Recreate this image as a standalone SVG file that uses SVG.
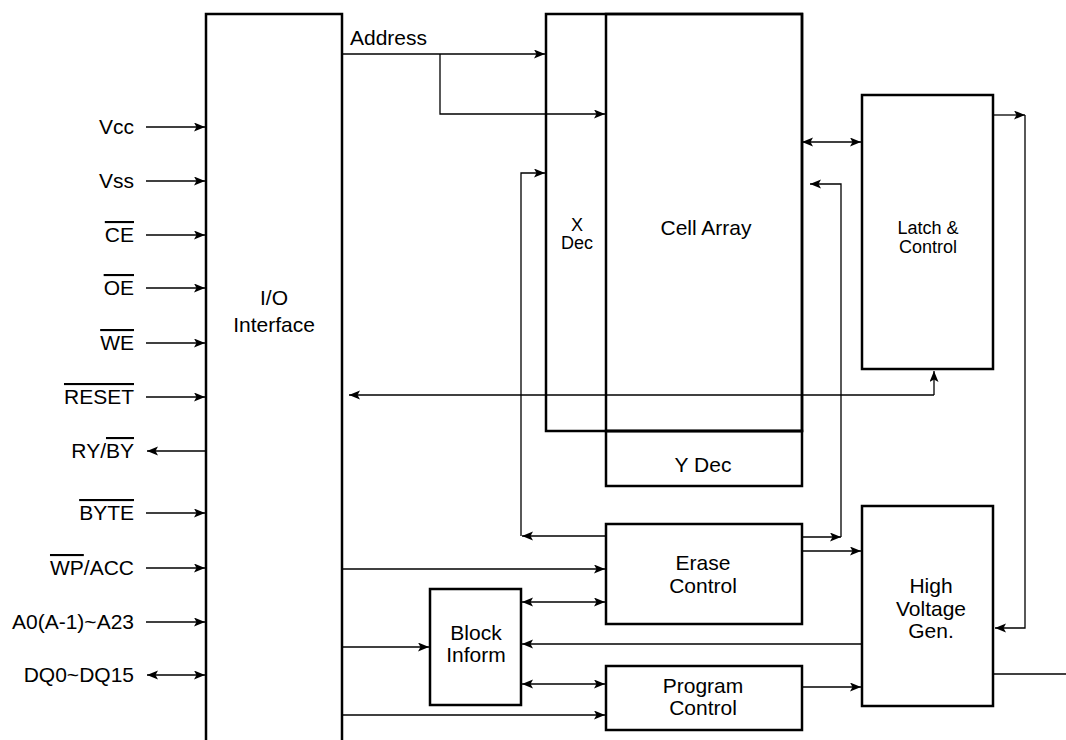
<svg xmlns="http://www.w3.org/2000/svg" width="1066" height="740" viewBox="0 0 1066 740">
<style>
.box{fill:none;stroke:#000;stroke-width:2.5}
.ln{fill:none;stroke:#000;stroke-width:1.3}
.t{font-family:"Liberation Sans",Arial,sans-serif;font-size:21px;fill:#000}
.lbl{font-family:"Liberation Sans",Arial,sans-serif;font-size:21px;fill:#000;text-anchor:end}
.c{text-anchor:middle}
.s{font-size:18px}
</style>
<defs>
<marker id="a" markerUnits="userSpaceOnUse" markerWidth="12" markerHeight="10" refX="11" refY="4.5" orient="auto-start-reverse">
<path d="M0,0 L11,4.5 L0,9 L2.5,4.5 z" fill="#000"/>
</marker>
</defs>
<rect width="1066" height="740" fill="#fff"/>

<g id="io">
<path class="box" d="M206,742 V14 H342 V742"/>
<text class="t c" x="274" y="305">I/O</text>
<text class="t c" x="274" y="332">Interface</text>
</g>
<g id="xdec">
<rect class="box" x="546" y="14" width="256" height="417"/>
<text class="t c s" x="577" y="231">X</text>
<text class="t c s" x="577" y="249">Dec</text>
</g>
<g id="cellarray">
<rect class="box" x="606" y="14" width="196" height="417"/>
<text class="t c" x="706" y="235">Cell Array</text>
</g>
<g id="ydec">
<rect class="box" x="606" y="431" width="196" height="55"/>
<text class="t c" x="703" y="472">Y Dec</text>
</g>
<g id="latch">
<rect class="box" x="862" y="95" width="131" height="274"/>
<text class="t c s" x="928" y="234">Latch &amp;</text>
<text class="t c s" x="928" y="253">Control</text>
</g>
<g id="erase">
<rect class="box" x="606" y="524" width="196" height="100"/>
<text class="t c" x="703" y="570">Erase</text>
<text class="t c" x="703" y="593">Control</text>
</g>
<g id="program">
<rect class="box" x="606" y="666" width="196" height="64"/>
<text class="t c" x="703" y="693">Program</text>
<text class="t c" x="703" y="715">Control</text>
</g>
<g id="block">
<rect class="box" x="430" y="589" width="91" height="116"/>
<text class="t c" x="476" y="640">Block</text>
<text class="t c" x="476" y="662">Inform</text>
</g>
<g id="hv">
<rect class="box" x="862" y="506" width="131" height="200"/>
<text class="t c" x="931" y="593">High</text>
<text class="t c" x="931" y="616">Voltage</text>
<text class="t c" x="931" y="638">Gen.</text>
</g>

<g id="labels">
<text class="lbl" x="134" y="134">Vcc</text>
<text class="lbl" x="134" y="188">Vss</text>
<text class="lbl" x="134" y="242"><tspan text-decoration="overline">CE</tspan></text>
<text class="lbl" x="134" y="295"><tspan text-decoration="overline">OE</tspan></text>
<text class="lbl" x="134" y="350"><tspan text-decoration="overline">WE</tspan></text>
<text class="lbl" x="134" y="404"><tspan text-decoration="overline">RESET</tspan></text>
<text class="lbl" x="134" y="458">RY/<tspan text-decoration="overline">BY</tspan></text>
<text class="lbl" x="134" y="520"><tspan text-decoration="overline">BYTE</tspan></text>
<text class="lbl" x="134" y="575"><tspan text-decoration="overline">WP</tspan>/ACC</text>
<text class="lbl" x="134" y="629">A0(A-1)~A23</text>
<text class="lbl" x="134" y="682">DQ0~DQ15</text>
<text class="t" x="350" y="45">Address</text>
</g>

<g id="connectors">
<path class="ln" marker-end="url(#a)" d="M146,127 H205"/>
<path class="ln" marker-end="url(#a)" d="M146,181 H205"/>
<path class="ln" marker-end="url(#a)" d="M146,235 H205"/>
<path class="ln" marker-end="url(#a)" d="M146,288 H205"/>
<path class="ln" marker-end="url(#a)" d="M146,343 H205"/>
<path class="ln" marker-end="url(#a)" d="M146,397 H205"/>
<path class="ln" marker-end="url(#a)" d="M206,451 H147"/>
<path class="ln" marker-end="url(#a)" d="M146,513 H205"/>
<path class="ln" marker-end="url(#a)" d="M146,568 H205"/>
<path class="ln" marker-end="url(#a)" d="M146,622 H205"/>
<path class="ln" marker-start="url(#a)" marker-end="url(#a)" d="M147,675 H205"/>

<path class="ln" marker-end="url(#a)" d="M342,54 H545"/>
<path class="ln" marker-end="url(#a)" d="M440,54 V114 H605"/>
<path class="ln" marker-end="url(#a)" d="M606,536 H522"/>
<path class="ln" marker-end="url(#a)" d="M521,536 V173 H545"/>
<path class="ln" marker-end="url(#a)" d="M802,537 H841"/>
<path class="ln" marker-end="url(#a)" d="M841,537 V184 H810"/>
<path class="ln" marker-start="url(#a)" marker-end="url(#a)" d="M802,142 H861"/>
<path class="ln" marker-end="url(#a)" d="M993,115 H1025"/>
<path class="ln" marker-end="url(#a)" d="M1025,115 V628 H995"/>
<path class="ln" marker-end="url(#a)" d="M934,395 H349"/>
<path class="ln" marker-end="url(#a)" d="M934,395 V371"/>
<path class="ln" marker-end="url(#a)" d="M802,551 H861"/>
<path class="ln" marker-end="url(#a)" d="M802,687 H861"/>
<path class="ln" marker-end="url(#a)" d="M862,644 H522"/>
<path class="ln" d="M993,674 H1066"/>
<path class="ln" marker-end="url(#a)" d="M342,569 H605"/>
<path class="ln" marker-end="url(#a)" d="M342,647 H429"/>
<path class="ln" marker-end="url(#a)" d="M342,715 H605"/>
<path class="ln" marker-start="url(#a)" marker-end="url(#a)" d="M522,602 H605"/>
<path class="ln" marker-start="url(#a)" marker-end="url(#a)" d="M522,684 H605"/>
</g>
</svg>
